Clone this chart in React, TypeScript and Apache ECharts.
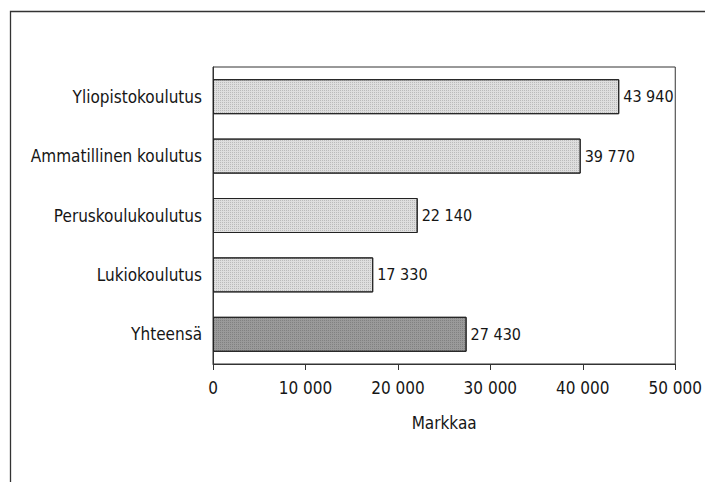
import React, { useEffect, useRef } from "react";
import * as echarts from "echarts";

const categories = [
  "Yliopistokoulutus",
  "Ammatillinen koulutus",
  "Peruskoulukoulutus",
  "Lukiokoulutus",
  "Yhteensä",
];
const values = [43940, 39770, 22140, 17330, 27430];
const barColors = ["#dedede", "#dedede", "#dedede", "#dedede", "#9a9a9a"];
const axisMin = 0;
const axisMax = 50000;
const axisInterval = 10000;
const axisName = "Markkaa";

const FONT = "'Liberation Sans Narrow', 'DejaVu Sans Condensed', 'Roboto', sans-serif";
const TEXT = "#161616";

const fmt = (v: number) => String(v).replace(/\B(?=(\d{3})+(?!\d))/g, " ");

export default function App() {
  const ref = useRef<HTMLDivElement>(null);
  useEffect(() => {
    if (!ref.current) return;
    const chart = echarts.init(ref.current, undefined, { renderer: "svg" });
    const decal = {
      symbol: "rect",
      symbolSize: 1,
      dashArrayX: [1, 1],
      dashArrayY: [1, 1],
      rotation: 0,
      color: "rgba(0,0,0,0.16)",
    };
    chart.setOption({
      animation: false,
      backgroundColor: "#fff",
      graphic: [
        {
          type: "rect",
          shape: { x: 10.5, y: 11.5, width: 720, height: 500 },
          style: { fill: "none", stroke: "#333", lineWidth: 1.3 },
          silent: true,
        },
      ],
      grid: {
        left: 213,
        right: 29,
        top: 67,
        bottom: 118,
        show: true,
        borderColor: "#333",
        borderWidth: 1,
        backgroundColor: "transparent",
      },
      xAxis: {
        type: "value",
        min: axisMin,
        max: axisMax,
        interval: axisInterval,
        name: axisName,
        nameLocation: "middle",
        nameGap: 50,
        nameTextStyle: { fontFamily: FONT, fontSize: 17, color: TEXT },
        axisLine: { show: true, lineStyle: { color: "#333", width: 1 } },
        axisTick: { show: true, length: 6, lineStyle: { color: "#333" } },
        splitLine: { show: false },
        axisLabel: {
          fontFamily: FONT,
          fontSize: 17,
          color: TEXT,
          margin: 15,
          formatter: (v: number) => fmt(v),
        },
      },
      yAxis: {
        type: "category",
        data: categories,
        inverse: true,
        axisLine: { show: true, lineStyle: { color: "#333", width: 1 } },
        axisTick: { show: false },
        splitLine: { show: false },
        axisLabel: { fontFamily: FONT, fontSize: 17, color: TEXT, margin: 11 },
      },
      series: [
        {
          type: "bar",
          barWidth: 35,
          data: values.map((v, i) => ({
            value: v,
            itemStyle: {
              color: barColors[i],
              borderColor: "#222",
              borderWidth: 1,
              decal,
            },
          })),
          label: {
            show: true,
            position: "right",
            distance: 4,
            fontFamily: FONT,
            fontSize: 16,
            color: TEXT,
            formatter: (p: any) => fmt(p.value),
          },
        },
      ],
    });
    return () => chart.dispose();
  }, []);
  return (
    <div
      ref={ref}
      style={{ position: "fixed", left: 0, top: 0, width: 705, height: 482 }}
    />
  );
}
